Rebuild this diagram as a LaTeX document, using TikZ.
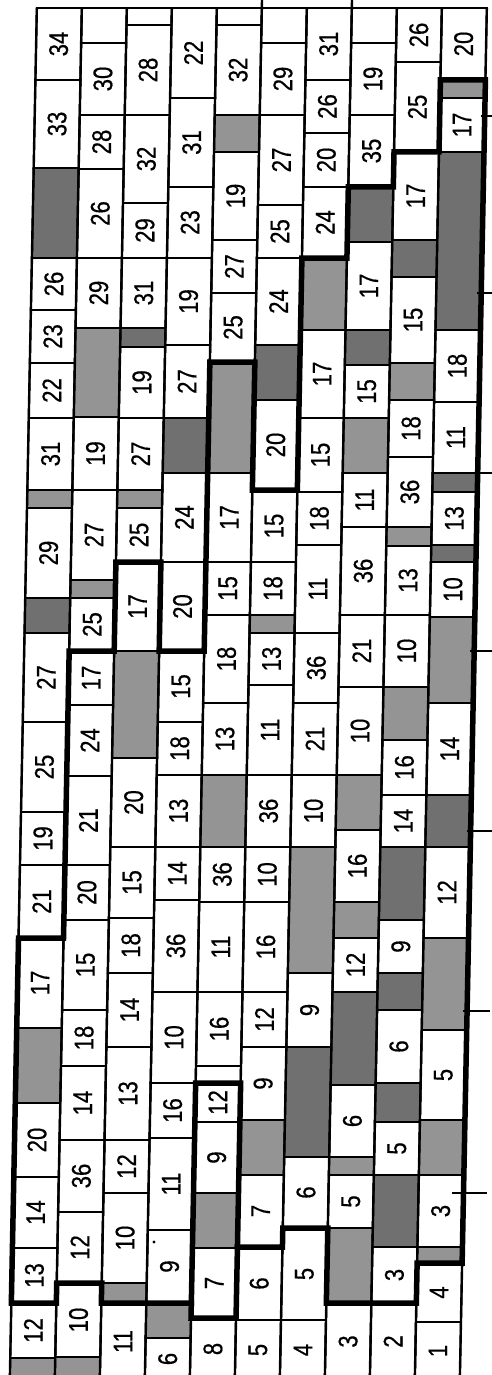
\documentclass[tikz,border=0pt]{standalone}
\usepackage{fontspec}
\newfontfamily\digitfont[FakeStretch=0.82,FakeBold=0.5]{Liberation Sans}
\tikzset{
  cellline/.style={line width=1.9pt},
  stripline/.style={line width=2.4pt},
  thickline/.style={line width=5.5pt, line join=miter, line cap=rect},
  lab/.style={rotate=90, inner sep=0pt, font=\digitfont\fontsize{27}{27}\selectfont},
  shL/.style={fill=black!42},
  shD/.style={fill=black!56},
}
\newcommand\cellbox[4]{%
  \pgfmathsetmacro\xa{37+45*(#1-1)}%
  \pgfmathsetmacro\xb{37+45*#1}%
  \pgfmathsetmacro\xc{14.5+45*#1}%
  \pgfmathsetmacro\yc{(#2+#3)/2}%
  \draw[cellline] (\xa,#2) rectangle (\xb,#3);%
  \node[lab] (c-#1-#2) at (\xc,\yc) {#4};%
}
\newcommand\shadebox[4]{%
  \pgfmathsetmacro\xa{37+45*(#1-1)}%
  \pgfmathsetmacro\xb{37+45*#1}%
  \path[#4] (\xa,#2) rectangle (\xb,#3);%
  \draw[cellline] (\xa,#2) rectangle (\xb,#3);%
}
\newcommand\blankbox[3]{%
  \pgfmathsetmacro\xa{37+45*(#1-1)}%
  \pgfmathsetmacro\xb{37+45*#1}%
  \draw[cellline] (\xa,#2) rectangle (\xb,#3);%
}
\begin{document}
\begin{tikzpicture}[x=1pt,y=-1pt]
\useasboundingbox[fill=white] (0,0) rectangle (492,1375);
\begin{scope}[xslant=0.0197]
% strip 1
\cellbox{1}{8}{80}{34}
\cellbox{1}{80}{168}{33}
\shadebox{1}{168}{258}{shD}
\cellbox{1}{258}{310}{26}
\cellbox{1}{310}{363}{23}
\cellbox{1}{363}{418}{22}
\cellbox{1}{418}{490}{31}
\shadebox{1}{490}{508}{shL}
\cellbox{1}{508}{598}{29}
\shadebox{1}{598}{633}{shD}
\cellbox{1}{633}{722}{27}
\cellbox{1}{722}{812}{25}
\cellbox{1}{812}{865}{19}
\cellbox{1}{865}{938}{21}
\cellbox{1}{938}{1028}{17}
\shadebox{1}{1028}{1103}{shL}
\cellbox{1}{1103}{1177}{20}
\cellbox{1}{1177}{1248}{14}
\cellbox{1}{1248}{1303}{13}
\cellbox{1}{1303}{1358}{12}
\shadebox{1}{1358}{1390}{shL}
% strip 2
\blankbox{2}{8}{43}
\cellbox{2}{43}{115}{30}
\cellbox{2}{115}{169}{28}
\cellbox{2}{169}{258}{26}
\cellbox{2}{258}{328}{29}
\shadebox{2}{328}{417}{shL}
\cellbox{2}{417}{490}{19}
\cellbox{2}{490}{580}{27}
\shadebox{2}{580}{598}{shL}
\cellbox{2}{598}{651}{25}
\cellbox{2}{651}{705}{17}
\cellbox{2}{705}{776}{24}
\cellbox{2}{776}{865}{21}
\cellbox{2}{865}{920}{20}
\cellbox{2}{920}{1010}{15}
\cellbox{2}{1010}{1066}{18}
\cellbox{2}{1066}{1140}{14}
\cellbox{2}{1140}{1212}{36}
\cellbox{2}{1212}{1283}{12}
\cellbox{2}{1283}{1357}{10}
\shadebox{2}{1357}{1390}{shL}
% strip 3
\blankbox{3}{8}{25}
\cellbox{3}{25}{115}{28}
\cellbox{3}{115}{203}{32}
\cellbox{3}{203}{258}{29}
\cellbox{3}{258}{328}{31}
\shadebox{3}{328}{347}{shD}
\cellbox{3}{347}{418}{19}
\cellbox{3}{418}{490}{27}
\shadebox{3}{490}{508}{shL}
\cellbox{3}{508}{562}{25}
\cellbox{3}{562}{651}{17}
\shadebox{3}{651}{758}{shL}
\cellbox{3}{758}{847}{20}
\cellbox{3}{847}{918}{15}
\cellbox{3}{918}{973}{18}
\cellbox{3}{973}{1047}{14}
\cellbox{3}{1047}{1140}{13}
\cellbox{3}{1140}{1193}{12}
\cellbox{3}{1193}{1283}{10}
\shadebox{3}{1283}{1303}{shL}
\cellbox{3}{1303}{1380}{11}
% strip 4
\cellbox{4}{8}{98}{22}
\cellbox{4}{98}{187}{31}
\cellbox{4}{187}{258}{23}
\cellbox{4}{258}{345}{19}
\cellbox{4}{345}{418}{27}
\shadebox{4}{418}{473}{shD}
\cellbox{4}{473}{562}{24}
\cellbox{4}{562}{651}{20}
\cellbox{4}{651}{722}{15}
\cellbox{4}{722}{775}{18}
\cellbox{4}{775}{847}{13}
\cellbox{4}{847}{900}{14}
\cellbox{4}{900}{992}{36}
\cellbox{4}{992}{1083}{10}
\cellbox{4}{1083}{1138}{16}
\cellbox{4}{1138}{1230}{11}
\cellbox{4}{1230}{1303}{9}
\shadebox{4}{1303}{1338}{shL}
\cellbox{4}{1338}{1380}{6}
% strip 5
\blankbox{5}{8}{25}
\cellbox{5}{25}{115}{32}
\shadebox{5}{115}{152}{shL}
\cellbox{5}{152}{240}{19}
\cellbox{5}{240}{293}{27}
\cellbox{5}{293}{362}{25}
\shadebox{5}{362}{473}{shL}
\cellbox{5}{473}{562}{17}
\cellbox{5}{562}{615}{15}
\cellbox{5}{615}{703}{18}
\cellbox{5}{703}{775}{13}
\shadebox{5}{775}{847}{shL}
\cellbox{5}{847}{902}{36}
\cellbox{5}{902}{992}{11}
\cellbox{5}{992}{1066}{16}
\blankbox{5}{1066}{1083}
\cellbox{5}{1083}{1122}{12}
\cellbox{5}{1122}{1193}{9}
\shadebox{5}{1193}{1248}{shL}
\cellbox{5}{1248}{1318}{7}
\cellbox{5}{1318}{1380}{8}
% strip 6
\blankbox{6}{8}{43}
\cellbox{6}{43}{115}{29}
\cellbox{6}{115}{205}{27}
\cellbox{6}{205}{258}{25}
\cellbox{6}{258}{345}{24}
\shadebox{6}{345}{400}{shD}
\cellbox{6}{400}{490}{20}
\cellbox{6}{490}{562}{15}
\cellbox{6}{562}{615}{18}
\shadebox{6}{615}{633}{shL}
\cellbox{6}{633}{685}{13}
\cellbox{6}{685}{775}{11}
\cellbox{6}{775}{847}{36}
\cellbox{6}{847}{902}{10}
\cellbox{6}{902}{992}{16}
\cellbox{6}{992}{1047}{12}
\cellbox{6}{1047}{1120}{9}
\shadebox{6}{1120}{1175}{shL}
\cellbox{6}{1175}{1247}{7}
\cellbox{6}{1247}{1320}{6}
\cellbox{6}{1320}{1380}{5}
% strip 7
\cellbox{7}{8}{80}{31}
\cellbox{7}{80}{133}{26}
\cellbox{7}{133}{187}{20}
\cellbox{7}{187}{258}{24}
\shadebox{7}{258}{330}{shL}
\cellbox{7}{330}{418}{17}
\cellbox{7}{418}{492}{15}
\cellbox{7}{492}{545}{18}
\cellbox{7}{545}{633}{11}
\cellbox{7}{633}{703}{36}
\cellbox{7}{703}{775}{21}
\cellbox{7}{775}{847}{10}
\shadebox{7}{847}{973}{shL}
\cellbox{7}{973}{1047}{9}
\shadebox{7}{1047}{1157}{shD}
\cellbox{7}{1157}{1228}{6}
\cellbox{7}{1228}{1320}{5}
\cellbox{7}{1320}{1380}{4}
% strip 8
\blankbox{8}{8}{43}
\cellbox{8}{43}{115}{19}
\cellbox{8}{115}{187}{35}
\shadebox{8}{187}{242}{shD}
\cellbox{8}{242}{330}{17}
\shadebox{8}{330}{365}{shD}
\cellbox{8}{365}{418}{15}
\shadebox{8}{418}{473}{shL}
\cellbox{8}{473}{527}{11}
\cellbox{8}{527}{615}{36}
\cellbox{8}{615}{687}{21}
\cellbox{8}{687}{775}{10}
\shadebox{8}{775}{830}{shL}
\cellbox{8}{830}{902}{16}
\shadebox{8}{902}{938}{shL}
\cellbox{8}{938}{992}{12}
\shadebox{8}{992}{1085}{shD}
\cellbox{8}{1085}{1157}{6}
\shadebox{8}{1157}{1175}{shL}
\cellbox{8}{1175}{1228}{5}
\shadebox{8}{1228}{1303}{shL}
\cellbox{8}{1303}{1380}{3}
% strip 9
\cellbox{9}{8}{62}{26}
\cellbox{9}{62}{152}{25}
\cellbox{9}{152}{240}{17}
\shadebox{9}{240}{277}{shD}
\cellbox{9}{277}{363}{15}
\shadebox{9}{363}{400}{shL}
\cellbox{9}{400}{457}{18}
\cellbox{9}{457}{527}{36}
\shadebox{9}{527}{546}{shL}
\cellbox{9}{546}{615}{13}
\cellbox{9}{615}{687}{10}
\shadebox{9}{687}{740}{shL}
\cellbox{9}{740}{795}{16}
\cellbox{9}{795}{847}{14}
\shadebox{9}{847}{920}{shD}
\cellbox{9}{920}{973}{9}
\shadebox{9}{973}{1010}{shD}
\cellbox{9}{1010}{1083}{6}
\shadebox{9}{1083}{1122}{shD}
\cellbox{9}{1122}{1175}{5}
\shadebox{9}{1175}{1247}{shD}
\cellbox{9}{1247}{1303}{3}
\cellbox{9}{1303}{1380}{2}
% strip 10
\cellbox{10}{8}{80}{20}
\shadebox{10}{80}{98}{shL}
\cellbox{10}{98}{152}{17}
\shadebox{10}{152}{330}{shD}
\cellbox{10}{330}{402}{18}
\cellbox{10}{402}{473}{11}
\shadebox{10}{473}{492}{shD}
\cellbox{10}{492}{545}{13}
\shadebox{10}{545}{562}{shD}
\cellbox{10}{562}{617}{10}
\shadebox{10}{617}{703}{shL}
\cellbox{10}{703}{795}{14}
\shadebox{10}{795}{847}{shD}
\cellbox{10}{847}{938}{12}
\shadebox{10}{938}{1030}{shL}
\cellbox{10}{1030}{1120}{5}
\shadebox{10}{1120}{1175}{shL}
\cellbox{10}{1175}{1247}{3}
\shadebox{10}{1247}{1263}{shL}
\cellbox{10}{1263}{1322}{4}
\cellbox{10}{1322}{1380}{1}
% strip separators and frame
\foreach \k in {0,...,10} \draw[stripline] ({37+45*\k},8) -- ({37+45*\k},1380);
\draw[stripline] (37,8) -- (487,8);
\draw[stripline] (262,0) -- (262,8);
\draw[stripline] (352,0) -- (352,8);
% ticks
\foreach \y in {116,293,473,651,831,1011} \draw[stripline] (483,\y) -- (510,\y);
\draw[stripline] (475,1193) -- (510,1193);
% dot
\fill (178.5,1242) circle (1.6);
% thick outline
\draw[thickline] (487,80) -- (442,80) -- (442,152) -- (397,152) -- (397,187) -- (352,187) -- (352,258) -- (307,258) -- (307,490) -- (262,490) -- (262,362) -- (217,362) -- (217,651) -- (172,651) -- (172,562) -- (127,562) -- (127,651) -- (82,651) -- (82,938) -- (37,938) -- (37,1303) -- (82,1303) -- (82,1283) -- (127,1283) -- (127,1303) -- (217,1303) -- (217,1318) -- (262,1318) -- (262,1247) -- (307,1247) -- (307,1228) -- (352,1228) -- (352,1303) -- (442,1303) -- (442,1263) -- (487,1263) -- cycle;
\draw[thickline] (217,1303) -- (217,1083) -- (262,1083) -- (262,1247);
\end{scope}
\end{tikzpicture}
\end{document}
